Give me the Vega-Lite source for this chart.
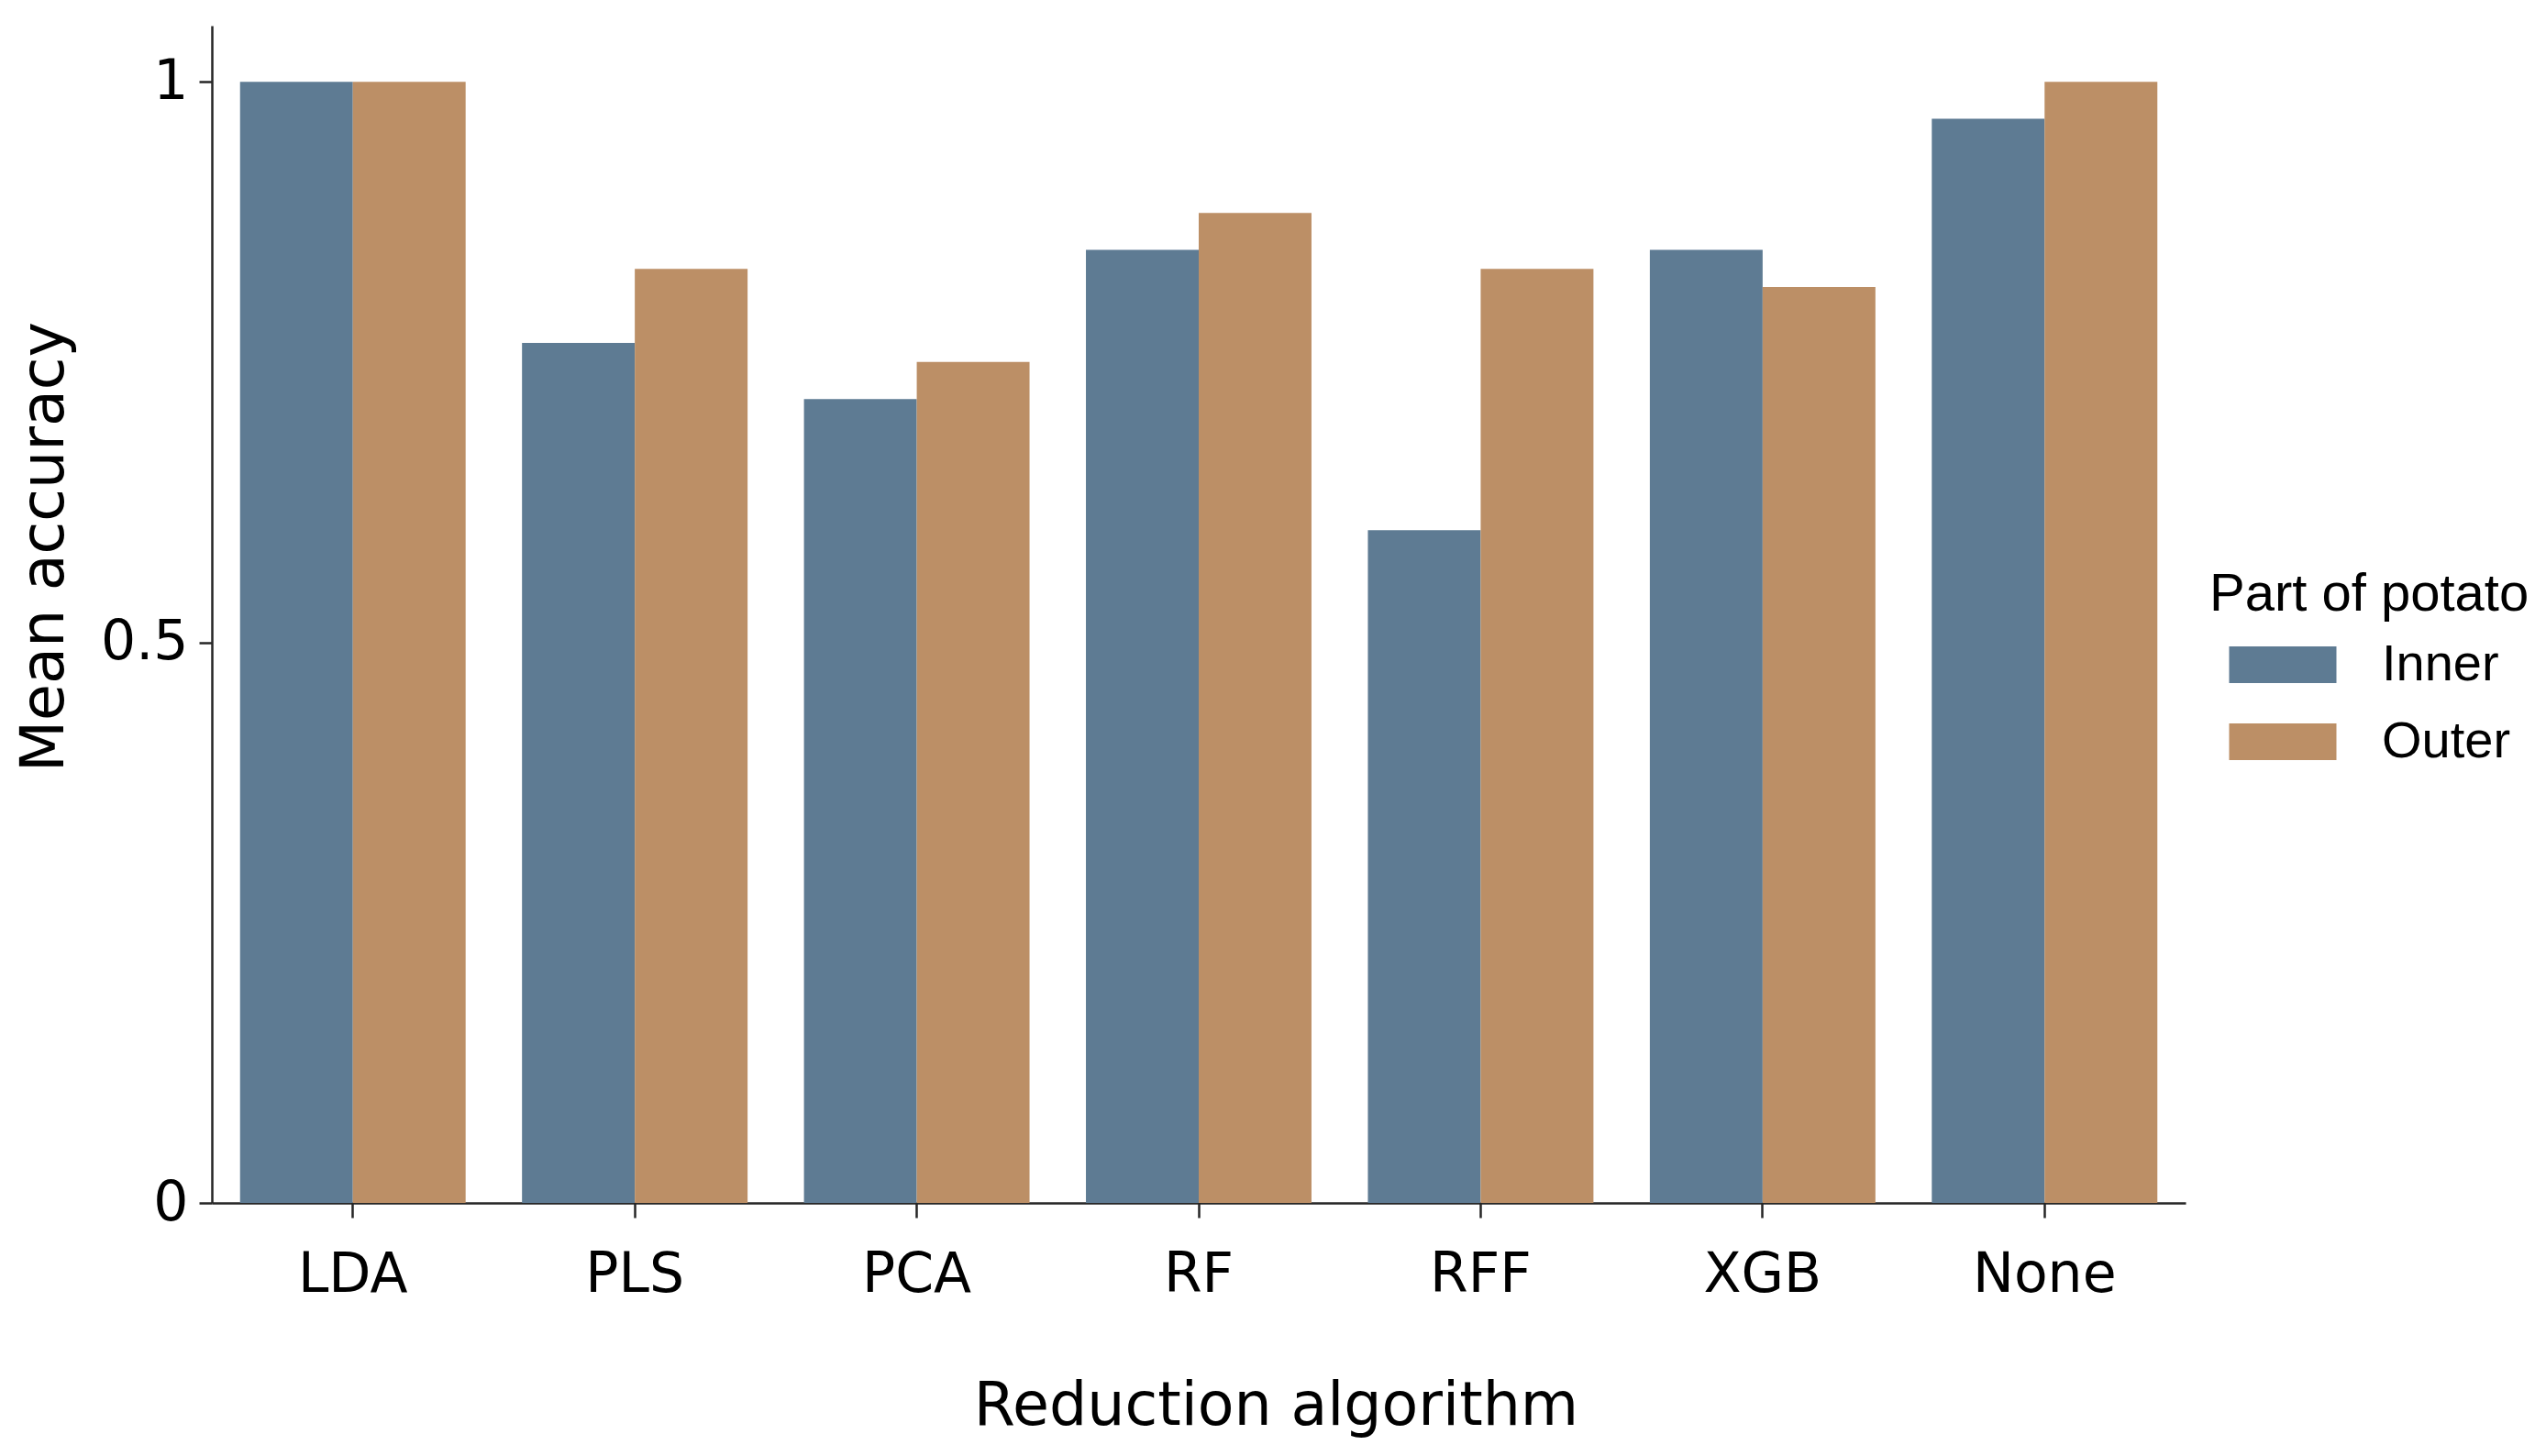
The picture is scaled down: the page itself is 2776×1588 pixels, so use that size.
{
  "$schema": "https://vega.github.io/schema/vega-lite/v6.json",
  "width": 2152,
  "height": 1284,
  "autosize": {"type": "none"},
  "padding": {"left": 231, "top": 28, "right": 393, "bottom": 276},
  "background": "white",
  "data": {
    "values": [
      {"algorithm": "LDA", "part": "Inner", "accuracy": 1.0},
      {"algorithm": "LDA", "part": "Outer", "accuracy": 1.0},
      {"algorithm": "PLS", "part": "Inner", "accuracy": 0.767},
      {"algorithm": "PLS", "part": "Outer", "accuracy": 0.833},
      {"algorithm": "PCA", "part": "Inner", "accuracy": 0.717},
      {"algorithm": "PCA", "part": "Outer", "accuracy": 0.75},
      {"algorithm": "RF", "part": "Inner", "accuracy": 0.85},
      {"algorithm": "RF", "part": "Outer", "accuracy": 0.883},
      {"algorithm": "RFF", "part": "Inner", "accuracy": 0.6},
      {"algorithm": "RFF", "part": "Outer", "accuracy": 0.833},
      {"algorithm": "XGB", "part": "Inner", "accuracy": 0.85},
      {"algorithm": "XGB", "part": "Outer", "accuracy": 0.817},
      {"algorithm": "None", "part": "Inner", "accuracy": 0.967},
      {"algorithm": "None", "part": "Outer", "accuracy": 1.0}
    ]
  },
  "mark": {"type": "bar"},
  "encoding": {
    "x": {
      "field": "algorithm",
      "type": "nominal",
      "sort": ["LDA", "PLS", "PCA", "RF", "RFF", "XGB", "None"],
      "scale": {"paddingInner": 0.2, "paddingOuter": 0.1},
      "axis": {
        "title": "Reduction algorithm",
        "labelAngle": 0,
        "labelPadding": 33,
        "tickSize": 16,
        "titleX": 1160,
        "titleY": 241,
        "titleBaseline": "alphabetic",
        "titleAlign": "center"
      }
    },
    "xOffset": {"field": "part", "type": "nominal", "sort": ["Inner", "Outer"]},
    "y": {
      "field": "accuracy",
      "type": "quantitative",
      "scale": {"domain": [0, 1.05], "nice": false},
      "axis": {
        "title": "Mean accuracy",
        "values": [0, 0.5, 1],
        "format": ".2~f",
        "labelPadding": 12,
        "tickSize": 14,
        "titleX": -163,
        "titleY": 568,
        "titleBaseline": "alphabetic",
        "titleAlign": "center",
        "titleAngle": -90
      }
    },
    "color": {
      "field": "part",
      "type": "nominal",
      "scale": {"domain": ["Inner", "Outer"], "range": ["#5e7b93", "#bc8f66"]},
      "legend": {
        "title": "Part of potato",
        "orient": "none",
        "legendX": 2178,
        "legendY": 592,
        "padding": 0,
        "titleFont": "Liberation Sans",
        "titleFontSize": 58,
        "titleFontWeight": "normal",
        "titleColor": "#000",
        "titleLimit": 1000,
        "titlePadding": 19,
        "titleBaseline": "top",
        "labelFont": "Liberation Sans",
        "labelFontSize": 56,
        "labelColor": "#000",
        "labelLimit": 1000,
        "symbolType": "M-2.925,-1H2.925V1H-2.925Z",
        "symbolSize": 1600,
        "symbolStrokeWidth": 0,
        "symbolOpacity": 1,
        "symbolOffset": 52,
        "labelOffset": 80,
        "rowPadding": 28
      }
    }
  },
  "config": {
    "view": {"stroke": null},
    "axis": {
      "grid": false,
      "labelFont": "DejaVu Sans",
      "labelFontSize": 60,
      "labelColor": "#000000",
      "titleFont": "DejaVu Sans",
      "titleFontSize": 65,
      "titleFontWeight": "normal",
      "titleColor": "#000000",
      "domainColor": "#262626",
      "domainWidth": 2.5,
      "tickColor": "#262626",
      "tickWidth": 2.5
    }
  }
}
